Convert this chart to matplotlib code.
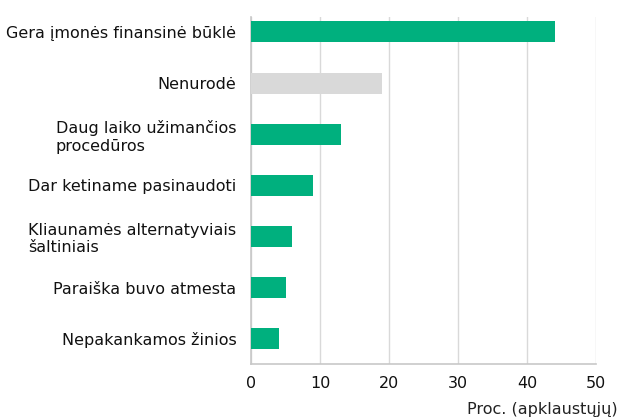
import matplotlib.pyplot as plt

categories = [
    'Gera įmonės finansinė būklė',
    'Nenurodė',
    'Daug laiko užimančios\nprocedūros',
    'Dar ketiname pasinaudoti',
    'Kliaunamės alternatyviais\nšaltiniais',
    'Paraiška buvo atmesta',
    'Nepakankamos žinios',
]
values = [44, 19, 13, 9, 6, 5, 4]
colors = ['#00B07E', '#D9D9D9', '#00B07E', '#00B07E', '#00B07E', '#00B07E', '#00B07E']
x_ticks = [0, 10, 20, 30, 40, 50]

plt.rcParams['font.family'] = 'DejaVu Sans'

fig = plt.figure(figsize=(6.24, 4.19), dpi=100)
ax = fig.add_axes([251 / 624, 1 - 364 / 419, 345 / 624, 347 / 419])

pos = list(range(len(categories)))
ax.barh(pos, values, height=0.41, color=colors, zorder=3)

ax.set_xlim(0, 50)
ax.set_ylim(6.49, -0.29)
ax.set_xticks(x_ticks)
ax.set_yticks(pos)
ax.set_yticklabels(categories, fontsize=11.5, ha='right', multialignment='left')
ax.tick_params(axis='y', length=0, pad=10.5)
ax.tick_params(axis='x', length=0, pad=8.5, labelsize=11.5)

ax.grid(axis='x', color='#D9D9D9', linewidth=1, zorder=0)
for side in ['top', 'right']:
    ax.spines[side].set_visible(False)
ax.spines['left'].set_color('#C8C8C8')
ax.spines['bottom'].set_color('#C8C8C8')
ax.spines['left'].set_linewidth(1.2)
ax.spines['bottom'].set_linewidth(1.2)

fig.text(618 / 624, 1 - 409 / 419, 'Proc. (apklaustųjų)', ha='right', va='center',
         fontsize=11.5, color='#222222')
for lab in ax.get_xticklabels() + ax.get_yticklabels():
    lab.set_color('#111111')

fig.savefig('out.png', dpi=100)
